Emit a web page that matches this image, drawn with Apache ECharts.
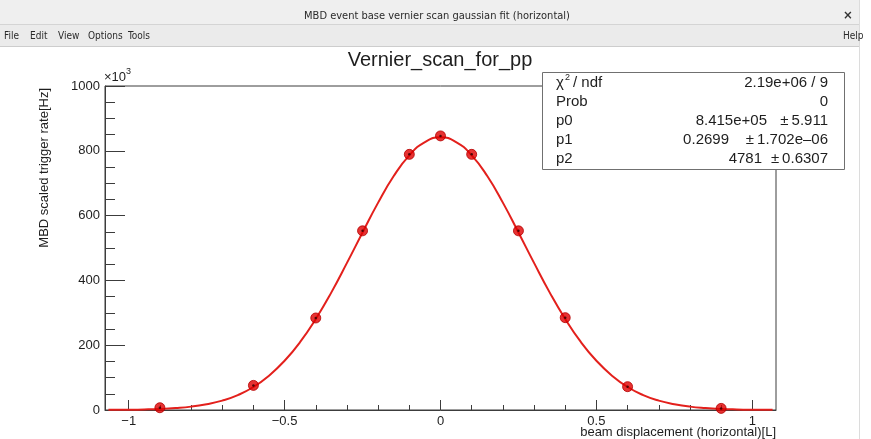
<!DOCTYPE html>
<html>
<head>
<meta charset="utf-8">
<script src="https://cdn.jsdelivr.net/npm/echarts@6/dist/echarts.min.js"></script>
<style>
  html, body { margin: 0; padding: 0; background: #ffffff; }
  #chart { width: 871px; height: 439px; }
</style>
</head>
<body>
<div id="chart"></div>
<script>
// Vernier scan points: beam displacement vs. MBD scaled trigger rate (x10^3 Hz)
const scanX = [-0.9, -0.6, -0.4, -0.25, -0.1, 0, 0.1, 0.25, 0.4, 0.6, 0.9];
const rateY = [7, 76, 284, 553, 789, 846, 789, 553, 285, 72, 5];

// Gaussian fit curve, sampled along the scan range
const fitX = [-1.065, -1.0, -0.95, -0.9, -0.85, -0.8, -0.75, -0.7, -0.65, -0.6, -0.55, -0.5, -0.45,
              -0.4, -0.35, -0.3, -0.25, -0.2, -0.15, -0.1, -0.05, 0,
              0.05, 0.1, 0.15, 0.2, 0.25, 0.3, 0.35, 0.4, 0.45, 0.5, 0.55, 0.6, 0.65,
              0.7, 0.75, 0.8, 0.85, 0.9, 0.95, 1.0, 1.065];
const fitY = [0.4, 0.9, 1.7, 3.2, 6, 10.4, 18, 29, 46, 71, 106, 152, 210,
              281, 363, 454, 548, 640, 722, 786, 827, 842,
              827, 786, 722, 640, 548, 454, 363, 281, 210, 152, 106, 71, 46,
              29, 18, 10.4, 6, 3.2, 1.7, 0.9, 0.4];

// Axis ticks
const xMajorTicks = [-1, -0.5, 0, 0.5, 1];
const xMinorTicks = [-1.0, -0.9, -0.8, -0.7, -0.6, -0.5, -0.4, -0.3, -0.2, -0.1, 0,
                     0.1, 0.2, 0.3, 0.4, 0.5, 0.6, 0.7, 0.8, 0.9, 1.0];
const yTickStep = 200;

// Fit statistics panel rows
const statNames = ['Prob', 'p0', 'p1', 'p2'];
const statValues = ['0', '8.415e+05', '0.2699', '4781'];
const statErrors = ['', '\u00b1\u20095.911', '\u00b1\u20091.702e\u201306', '\u00b1\u20090.6307'];
const chi2Text = '2.19e+06 / 9';

const ROOT_FONT = '"Liberation Sans", Arial, Helvetica, sans-serif';
const UI_FONT = '"DejaVu Sans Condensed", "Liberation Sans Narrow", "DejaVu Sans", sans-serif';
const AXIS_COLOR = '#3c3c3c';
const TEXT_COLOR = '#1e1e1e';

const chart = echarts.init(document.getElementById('chart'), null, { renderer: 'canvas' });

const pairs = (xs, ys) => xs.map((x, i) => [x, ys[i]]);
const fmtNum = v => String(v).replace('-', '\u2212');

// Window chrome, text and stats box
const graphics = [
  // title bar
  { type: 'rect', shape: { x: 0, y: 0, width: 860, height: 24 }, style: { fill: '#efefef' }, z: 1, silent: true },
  { type: 'line', shape: { x1: 0, y1: 24.5, x2: 860, y2: 24.5 }, style: { stroke: '#d4d4d4', lineWidth: 1 }, z: 2, silent: true },
  { type: 'text', x: 437, y: 16, style: { text: 'MBD event base vernier scan gaussian fit (horizontal)', font: '11px ' + UI_FONT, fill: '#2a2a2a', align: 'center', verticalAlign: 'middle' }, z: 3, silent: true },
  { type: 'text', x: 848, y: 16, style: { text: '\u00d7', font: 'bold 13px ' + UI_FONT, fill: '#333', align: 'center', verticalAlign: 'middle' }, z: 3, silent: true },
  // menu bar
  { type: 'rect', shape: { x: 0, y: 25, width: 860, height: 21 }, style: { fill: '#ebebeb' }, z: 1, silent: true },
  { type: 'line', shape: { x1: 0, y1: 46.5, x2: 860, y2: 46.5 }, style: { stroke: '#cdcdcd', lineWidth: 1 }, z: 2, silent: true },
  { type: 'line', shape: { x1: 859.5, y1: 0, x2: 859.5, y2: 439 }, style: { stroke: '#dcdcdc', lineWidth: 1 }, z: 2, silent: true }
];

const menuItems = [['File', 4], ['Edit', 30], ['View', 58], ['Options', 88], ['Tools', 128], ['Help', 843]];
menuItems.forEach(([label, x]) => {
  graphics.push({ type: 'text', x: x, y: 36, style: { text: label, font: '10px ' + UI_FONT, fill: '#2a2a2a', align: 'left', verticalAlign: 'middle' }, z: 3, silent: true });
});

// chart title
graphics.push({ type: 'text', x: 440, y: 60, style: { text: 'Vernier_scan_for_pp', font: '20px ' + ROOT_FONT, fill: TEXT_COLOR, align: 'center', verticalAlign: 'middle' }, z: 5, silent: true });

// axis titles and exponent
graphics.push({ type: 'text', x: 44, y: 88, rotation: Math.PI / 2, style: { text: 'MBD scaled trigger rate[Hz]', font: '13px ' + ROOT_FONT, fill: TEXT_COLOR, align: 'right', verticalAlign: 'middle' }, z: 5, silent: true });
graphics.push({ type: 'text', x: 776, y: 432, style: { text: 'beam displacement (horizontal)[L]', font: '13px ' + ROOT_FONT, fill: TEXT_COLOR, align: 'right', verticalAlign: 'middle' }, z: 5, silent: true });
graphics.push({ type: 'text', x: 104, y: 77, style: { text: '\u00d710', font: '13px ' + ROOT_FONT, fill: TEXT_COLOR, align: 'left', verticalAlign: 'middle' }, z: 5, silent: true });
graphics.push({ type: 'text', x: 126, y: 72, style: { text: '3', font: '9px ' + ROOT_FONT, fill: TEXT_COLOR, align: 'left', verticalAlign: 'middle' }, z: 5, silent: true });

// stats box
graphics.push({ type: 'rect', shape: { x: 542.5, y: 72.5, width: 302, height: 97 }, style: { fill: '#ffffff', stroke: '#707070', lineWidth: 1 }, z: 10, silent: true });
const statLeft = 556, statRight = 828, rowY0 = 83, rowStep = 19;
graphics.push({ type: 'text', x: statLeft, y: rowY0, style: { text: '\u03c7', font: '15px ' + ROOT_FONT, fill: TEXT_COLOR, align: 'left', verticalAlign: 'middle' }, z: 11, silent: true });
graphics.push({ type: 'text', x: statLeft + 9, y: rowY0 - 5, style: { text: '2', font: '9px ' + ROOT_FONT, fill: TEXT_COLOR, align: 'left', verticalAlign: 'middle' }, z: 11, silent: true });
graphics.push({ type: 'text', x: statLeft + 17, y: rowY0, style: { text: '/ ndf', font: '15px ' + ROOT_FONT, fill: TEXT_COLOR, align: 'left', verticalAlign: 'middle' }, z: 11, silent: true });
graphics.push({ type: 'text', x: statRight, y: rowY0, style: { text: chi2Text, font: '15px ' + ROOT_FONT, fill: TEXT_COLOR, align: 'right', verticalAlign: 'middle' }, z: 11, silent: true });

const valueRight = [statRight, 767, 729, 762];
statNames.forEach((name, i) => {
  const y = rowY0 + rowStep * (i + 1);
  graphics.push({ type: 'text', x: statLeft, y: y, style: { text: name, font: '15px ' + ROOT_FONT, fill: TEXT_COLOR, align: 'left', verticalAlign: 'middle' }, z: 11, silent: true });
  graphics.push({ type: 'text', x: valueRight[i], y: y, style: { text: statValues[i], font: '15px ' + ROOT_FONT, fill: TEXT_COLOR, align: 'right', verticalAlign: 'middle' }, z: 11, silent: true });
  if (statErrors[i]) {
    graphics.push({ type: 'text', x: statRight, y: y, style: { text: statErrors[i], font: '15px ' + ROOT_FONT, fill: TEXT_COLOR, align: 'right', verticalAlign: 'middle' }, z: 11, silent: true });
  }
});

const xMin = -1.076, xMax = 1.076;

const option = {
  animation: false,
  backgroundColor: '#ffffff',
  grid: {
    left: 105, right: 95, top: 86, bottom: 29,
    show: true, borderColor: AXIS_COLOR, borderWidth: 1, backgroundColor: 'transparent'
  },
  xAxis: [
    {
      type: 'value', min: xMin, max: xMax, position: 'bottom',
      axisLine: { show: true, onZero: false, lineStyle: { color: AXIS_COLOR, width: 1 } },
      axisTick: { show: true, inside: true, length: 10, customValues: xMajorTicks, lineStyle: { color: AXIS_COLOR } },
      axisLabel: { show: true, customValues: xMajorTicks, formatter: v => fmtNum(v), fontFamily: ROOT_FONT, fontSize: 13, color: TEXT_COLOR, margin: 5 },
      splitLine: { show: false }
    },
    {
      type: 'value', min: xMin, max: xMax, position: 'bottom',
      axisLine: { show: false, onZero: false },
      axisTick: { show: true, inside: true, length: 5, customValues: xMinorTicks, lineStyle: { color: AXIS_COLOR } },
      axisLabel: { show: false },
      splitLine: { show: false }
    }
  ],
  yAxis: {
    type: 'value', min: 0, max: 1000, interval: yTickStep,
    axisLine: { show: true, onZero: false, lineStyle: { color: AXIS_COLOR, width: 1 } },
    axisTick: { show: true, inside: true, length: 20, lineStyle: { color: AXIS_COLOR } },
    minorTick: { show: true, splitNumber: 4, length: 10, lineStyle: { color: AXIS_COLOR } },
    axisLabel: { formatter: v => String(v), fontFamily: ROOT_FONT, fontSize: 13, color: TEXT_COLOR, margin: 5 },
    splitLine: { show: false },
    minorSplitLine: { show: false }
  },
  series: [
    {
      type: 'line', name: 'fit', data: pairs(fitX, fitY),
      smooth: true, showSymbol: false, symbol: 'none', clip: true,
      lineStyle: { color: '#e3201c', width: 2 }, z: 2, silent: true
    },
    {
      type: 'scatter', name: 'scan', data: pairs(scanX, rateY),
      symbol: 'circle', symbolSize: 10,
      itemStyle: { color: '#e00000', borderColor: '#b40000', borderWidth: 1 }, z: 3, silent: true
    },
    {
      type: 'scatter', name: 'scan-centre', data: pairs(scanX, rateY),
      symbol: 'circle', symbolSize: 2.5,
      itemStyle: { color: '#2a0000' }, z: 4, silent: true
    }
  ],
  graphic: { elements: graphics }
};

chart.setOption(option);
</script>
</body>
</html>
